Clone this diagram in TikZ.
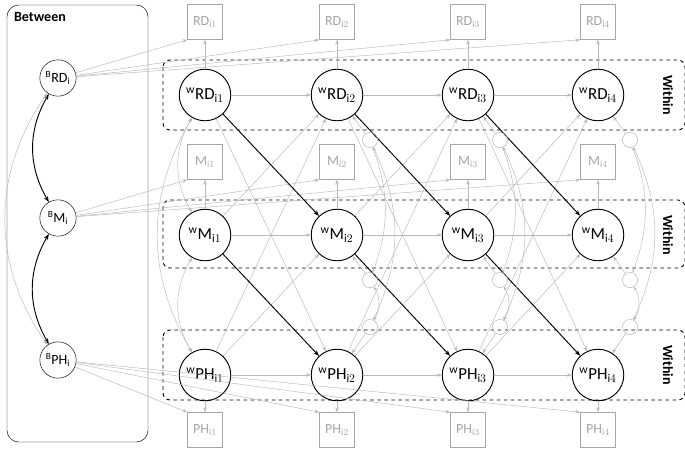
\documentclass[tikz,border=0pt]{standalone}
\usepackage{fontspec}
\setmainfont{Carlito}
\usetikzlibrary{arrows.meta,positioning}
\tikzset{
  lat/.style={circle,draw,thick,minimum size=44pt,inner sep=0pt,font=\Large},
  blat/.style={circle,draw,minimum size=31pt,inner sep=0pt,font=\large},
  obs/.style={draw=gray!70,text=gray!70,minimum size=30pt,inner sep=0pt,font=\large},
  res/.style={circle,draw=gray!60,minimum size=13pt,inner sep=0pt},
  ga/.style={gray!55,-{Stealth[length=4pt]}},
  ka/.style={black,thick,-{Stealth[length=5pt]}},
  wbox/.style={draw=black,thick,dashed,rounded corners=6pt},
}
\begin{document}
\begin{tikzpicture}[x=0.03cm,y=-0.03cm]
  \useasboundingbox (0,0) rectangle (685,450);
    % between part
    \draw[rounded corners=10pt] (7,5) rectangle (148,442);
    \node[font=\large\bfseries] (btitle) at (40,17) {Between};
    \node[blat] (bRD) at (58,78) {$^{\rm B}$RD$_{\rm i}$};
    \node[blat] (bM) at (58,218) {$^{\rm B}$M$_{\rm i}$};
    \node[blat] (bPH) at (58,360) {$^{\rm B}$PH$_{\rm i}$};
    % within boxes
    \draw[wbox] (163,60) rectangle (685,130);
    \draw[wbox] (163,200) rectangle (685,268);
    \draw[wbox] (163,330) rectangle (685,400);
    \foreach \y in {95,235,365}
        \node[rotate=-90,font=\large\bfseries] at (668,\y) {Within};
    % within and observed nodes
    \foreach \t/\x in {1/205,2/337,3/468,4/598}{
        \node[lat] (wRD\t) at (\x,95) {$^{\rm w}$RD$_{{\rm i}\t}$};
        \node[lat] (wM\t) at (\x,235) {$^{\rm w}$M$_{{\rm i}\t}$};
        \node[lat] (wPH\t) at (\x,375) {$^{\rm w}$PH$_{{\rm i}\t}$};
        \node[obs] (RD\t) at (\x,22) {RD$_{{\rm i}\t}$};
        \node[obs] (M\t) at (\x,162) {M$_{{\rm i}\t}$};
        \node[obs] (PH\t) at (\x,430) {PH$_{{\rm i}\t}$};
        \draw[ga] (wRD\t) -- (RD\t);
        \draw[ga] (wM\t) -- (M\t);
        \draw[ga] (wPH\t) -- (PH\t);
        \draw[ga] (bRD) -- (RD\t.south west);
        \draw[ga] (bM) -- (M\t.south west);
        \draw[ga] (bPH) -- (PH\t.north west);
    }
    % lagged paths
    \foreach \t/\s in {1/2,2/3,3/4}{
        \draw[ga] (wRD\t) -- (wRD\s);
        \draw[ga] (wM\t) -- (wM\s);
        \draw[ga] (wPH\t) -- (wPH\s);
        \draw[ga] (wM\t) -- (wRD\s);
        \draw[ga] (wPH\t) -- (wM\s);
        \draw[ga] (wRD\t) -- (wPH\s);
        \draw[ga] (wPH\t) -- (wRD\s);
        \draw[ka] (wRD\t) -- (wM\s);
        \draw[ka] (wM\t) -- (wPH\s);
    }
    % residuals
    \foreach \t/\x in {2/370,3/500,4/630}{
        \node[res] (eRD\t) at (\x,140) {};
        \node[res] (eMa\t) at (\x,280) {};
        \node[res] (ePH\t) at (\x,327) {};
        \draw[ga] (eRD\t) -- (wRD\t);
        \draw[ga] (eMa\t) -- (wM\t);
        \draw[ga] (ePH\t) -- (wPH\t);
        \draw[gray!55,{Stealth[length=3pt]}-{Stealth[length=3pt]}] (eMa\t) to[bend left=30] (ePH\t);
        \draw[gray!55,{Stealth[length=3pt]}-{Stealth[length=3pt]}] (eRD\t) to[bend left=20] (eMa\t);
        \draw[gray!55,{Stealth[length=3pt]}-{Stealth[length=3pt]}] (eRD\t) to[bend left=25] (ePH\t);
    }
    % covariances
    \draw[thick,{Stealth[length=5pt]}-{Stealth[length=5pt]}] (bRD) to[bend right=30] (bM);
    \draw[thick,{Stealth[length=5pt]}-{Stealth[length=5pt]}] (bM) to[bend right=30] (bPH);
    \draw[gray!55,{Stealth[length=4pt]}-{Stealth[length=4pt]}] (bRD) to[bend right=35] (bPH);
    \draw[gray!55,{Stealth[length=4pt]}-{Stealth[length=4pt]}] (wRD1) to[bend right=30] (wM1);
    \draw[gray!55,{Stealth[length=4pt]}-{Stealth[length=4pt]}] (wM1) to[bend right=30] (wPH1);
    \draw[gray!55,{Stealth[length=4pt]}-{Stealth[length=4pt]}] (wRD1) to[bend right=30] (wPH1);
\end{tikzpicture}
\end{document}
